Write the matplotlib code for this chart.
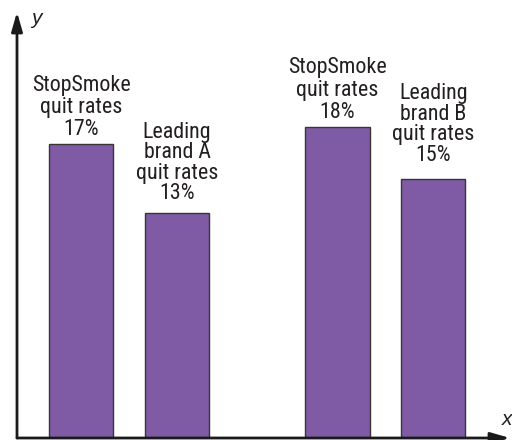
import matplotlib
matplotlib.use("Agg")
import matplotlib.pyplot as plt

# ---- data ----
labels = ["StopSmoke\nquit rates\n17%", "Leading\nbrand A\nquit rates\n13%",
          "StopSmoke\nquit rates\n18%", "Leading\nbrand B\nquit rates\n15%"]
values = [17, 13, 18, 15]

# ---- layout / style ----
positions = [0, 1, 2.672, 3.669]
bar_width = 0.672
label_pad_px = [4, 9, 4, 13]
line_spacing = [1.08, 0.97, 1.08, 0.97]
bar_color = "#7f5ba6"
edge_color = "#3a3535"
text_color = "#231f20"

plt.rcParams['font.family'] = ['Liberation Sans Narrow', 'Roboto Condensed', 'DejaVu Sans']

W, H = 512, 440
fig = plt.figure(figsize=(W / 100, H / 100), dpi=100)
ax = fig.add_axes([17 / W, 2 / H, (W - 17) / W, 438 / H])
ax.set_xlim(-0.667, 4.49)
ax.set_ylim(0, 438 / 17.28)
for s in ax.spines.values():
    s.set_visible(False)
ax.set_xticks([])
ax.set_yticks([])

ax.bar(positions, values, width=bar_width, color=bar_color,
       edgecolor=edge_color, linewidth=1.0, zorder=2)

for x, v, lab, pad, ls in zip(positions, values, labels, label_pad_px, line_spacing):
    ax.annotate(lab, xy=(x, v), xytext=(0, pad * 0.72), textcoords="offset points",
                ha="center", va="bottom", fontsize=15.8, color=text_color,
                linespacing=ls, multialignment="center")

# axes with arrows
arrow = dict(arrowstyle="-|>,head_length=1.15,head_width=0.33", color="#1a1a1a",
             lw=2, shrinkA=0, shrinkB=0, mutation_scale=10)
ax.annotate("", xy=(0, (438 - 12) / 438), xytext=(0, 0),
            xycoords="axes fraction", textcoords="axes fraction",
            arrowprops=arrow, annotation_clip=False)
ax.annotate("", xy=((510 - 17) / (W - 17), 0), xytext=(0, 0),
            xycoords="axes fraction", textcoords="axes fraction",
            arrowprops=arrow, annotation_clip=False)

fig.text(31 / W, 1 - 24 / H, "y", fontsize=15, style="italic", color=text_color,
         ha="left", va="baseline", family=['Liberation Sans', 'DejaVu Sans'])
fig.text(502 / W, 1 - 425 / H, "x", fontsize=15, style="italic", color=text_color,
         ha="left", va="baseline", family=['Liberation Sans', 'DejaVu Sans'])

fig.savefig("out.png", dpi=100)
